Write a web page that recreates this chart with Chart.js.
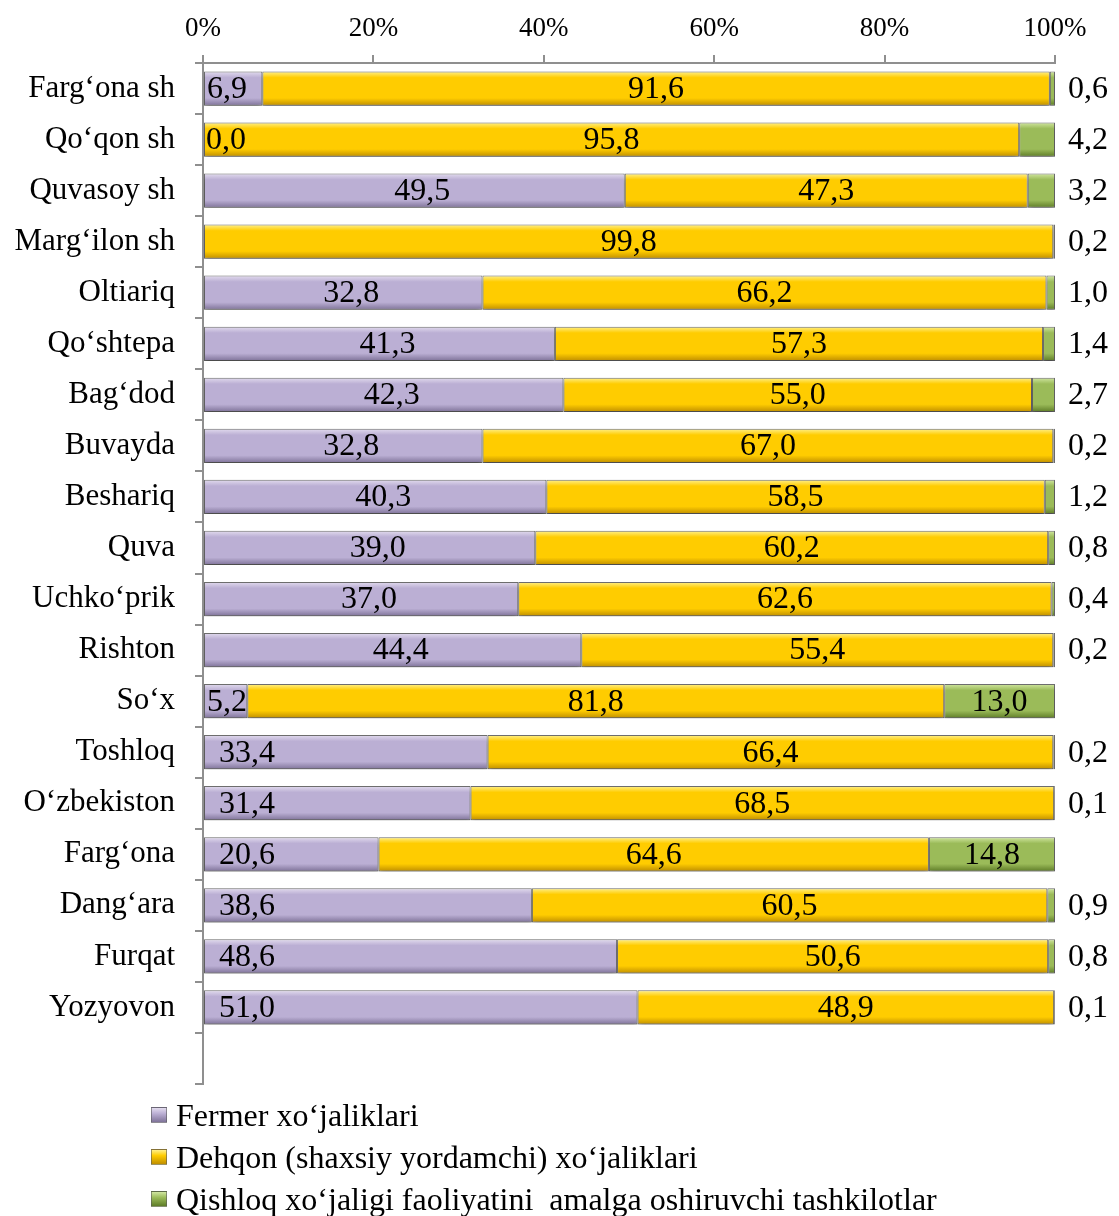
<!DOCTYPE html>
<html>
<head>
<meta charset="utf-8">
<script src="https://cdn.jsdelivr.net/npm/chart.js@4/dist/chart.umd.min.js"></script>
<style>
  body { margin: 0; background: #fff; }
  #wrap { position: relative; width: 1119px; height: 1216px; overflow: hidden; }
  #legend { position: absolute; left: 151px; top: 1094px; font-family: "Liberation Serif", serif; font-size: 32px; color: #000; }
  #legend .row { display: flex; align-items: center; height: 42px; white-space: pre; }
  #legend .box { width: 14px; height: 14px; margin-right: 9px; border: 1px solid rgba(90,90,90,0.6); }
</style>
</head>
<body>
<div id="wrap">
  <canvas id="farmChart" width="1119" height="1216"></canvas>
  <div id="legend"></div>
</div>
<script>
// categories (last slot is the empty row under Yozyovon)
const districts = [
  'Farg‘ona sh', 'Qo‘qon sh', 'Quvasoy sh', 'Marg‘ilon sh', 'Oltiariq', 'Qo‘shtepa',
  'Bag‘dod', 'Buvayda', 'Beshariq', 'Quva', 'Uchko‘prik', 'Rishton', 'So‘x',
  'Toshloq', 'O‘zbekiston', 'Farg‘ona', 'Dang‘ara', 'Furqat', 'Yozyovon', ''
];
const seriesNames = [
  'Fermer xo‘jaliklari',
  'Dehqon (shaxsiy yordamchi) xo‘jaliklari',
  'Qishloq xo‘jaligi faoliyatini  amalga oshiruvchi tashkilotlar'
];
const fermer = [6.9, 0.0, 49.5, null, 32.8, 41.3, 42.3, 32.8, 40.3, 39.0, 37.0, 44.4, 5.2, 33.4, 31.4, 20.6, 38.6, 48.6, 51.0];
const dehqon = [91.6, 95.8, 47.3, 99.8, 66.2, 57.3, 55.0, 67.0, 58.5, 60.2, 62.6, 55.4, 81.8, 66.4, 68.5, 64.6, 60.5, 50.6, 48.9];
const tashkilot = [0.6, 4.2, 3.2, 0.2, 1.0, 1.4, 2.7, 0.2, 1.2, 0.8, 0.4, 0.2, 13.0, 0.2, 0.1, 14.8, 0.9, 0.8, 0.1];
const xTicks = [0, 20, 40, 60, 80, 100];

// colours: [top highlight, main, bottom edge]
const shades = [
  ['#e2dbee', '#bbafd4', '#7f7399'],
  ['#fff08a', '#ffcc00', '#c08f00'],
  ['#d0e6a0', '#9bbb59', '#5f7d28']
];

const raw = [fermer, dehqon, tashkilot];
// 100% stacked: each row scaled to its own total
const rowTotal = fermer.map((v, i) => (v || 0) + dehqon[i] + tashkilot[i]);
const pct = (arr) => arr.map((v, i) => (v == null ? null : v / rowTotal[i] * 100));

const BAR_H = 34;
function barFill(k) {
  return function (ctx) {
    const chart = ctx.chart;
    if (!chart.chartArea || ctx.type !== 'data') return shades[k][1];
    const y = chart.scales.y.getPixelForValue(ctx.dataIndex);
    const g = chart.ctx.createLinearGradient(0, y - BAR_H / 2, 0, y + BAR_H / 2);
    g.addColorStop(0, shades[k][0]);
    g.addColorStop(0.18, shades[k][1]);
    g.addColorStop(0.78, shades[k][1]);
    g.addColorStop(1, shades[k][2]);
    return g;
  };
}

const fmt = (v) => v.toFixed(1).replace('.', ',');
const LEFT_LABEL_FROM = 13; // Toshloq and below: Fermer labels sit at the bar start

const barLook = {
  id: 'barLook',
  beforeDatasetsDraw(chart) {
    const c = chart.ctx;
    c.save();
    c.shadowColor = 'rgba(0,0,0,0.35)';
    c.shadowBlur = 5;
    c.shadowOffsetY = 4;
  },
  afterDatasetsDraw(chart) {
    const c = chart.ctx;
    c.restore();
    c.save();
    c.font = '32px "Liberation Serif"';
    c.fillStyle = '#000';
    c.textBaseline = 'middle';
    raw.forEach((arr, di) => {
      const meta = chart.getDatasetMeta(di);
      meta.data.forEach((el, i) => {
        const v = arr[i];
        if (v == null) return;
        const y = el.y + 1;
        const txt = fmt(v);
        if (di === 0 && v < 10) {
          c.textAlign = 'left';
          c.fillText(txt, el.base + 3, y);
        } else if (di === 0 && i >= LEFT_LABEL_FROM) {
          c.textAlign = 'left';
          c.fillText(txt, el.base + 15, y);
        } else if (di === 2 && v < 10) {
          c.textAlign = 'left';
          c.fillText(txt, chart.chartArea.right + 13, y);
        } else {
          c.textAlign = 'center';
          c.fillText(txt, (el.base + el.x) / 2 + (di === 0 ? 8 : 0), y);
        }
      });
    });
    c.restore();
  }
};

new Chart(document.getElementById('farmChart'), {
  type: 'bar',
  data: {
    labels: districts,
    datasets: raw.map((arr, k) => ({
      label: seriesNames[k],
      data: pct(arr),
      backgroundColor: barFill(k),
      borderColor: 'rgba(60,60,60,0.75)',
      borderWidth: 1,
      borderSkipped: false,
      categoryPercentage: 1,
      barPercentage: 0.67
    }))
  },
  options: {
    indexAxis: 'y',
    responsive: false,
    animation: false,
    devicePixelRatio: 1,
    layout: { padding: { left: 0, right: 64, top: 0, bottom: 132 } },
    plugins: {
      legend: { display: false },
      tooltip: { enabled: false }
    },
    scales: {
      x: {
        position: 'top',
        stacked: true,
        min: 0,
        max: 100,
        afterBuildTicks: (s) => { s.ticks = xTicks.map((v) => ({ value: v })); },
        afterFit: (s) => { s.height = 63; },
        ticks: {
          callback: (v) => v + '%',
          font: { family: 'Liberation Serif', size: 27 },
          color: '#000',
          padding: 10,
          maxRotation: 0
        },
        grid: { drawOnChartArea: false, tickLength: 8, color: '#8f8f8f', lineWidth: 2 },
        border: { color: '#8f8f8f', width: 2 }
      },
      y: {
        stacked: true,
        afterFit: (s) => { s.width = 203; },
        ticks: {
          font: { family: 'Liberation Serif', size: 31 },
          color: '#000',
          padding: 20,
          autoSkip: false
        },
        grid: { drawOnChartArea: false, tickLength: 8, color: '#8f8f8f', lineWidth: 2, offset: true },
        border: { color: '#8f8f8f', width: 2 }
      }
    }
  },
  plugins: [barLook]
});

// legend rows, one per series
const legend = document.getElementById('legend');
seriesNames.forEach((name, k) => {
  const row = document.createElement('div');
  row.className = 'row';
  const box = document.createElement('span');
  box.className = 'box';
  box.style.background = 'linear-gradient(' + shades[k][0] + ', ' + shades[k][1] + ' 40%, ' + shades[k][2] + ')';
  row.appendChild(box);
  row.appendChild(document.createTextNode(name));
  legend.appendChild(row);
});
</script>
</body>
</html>
